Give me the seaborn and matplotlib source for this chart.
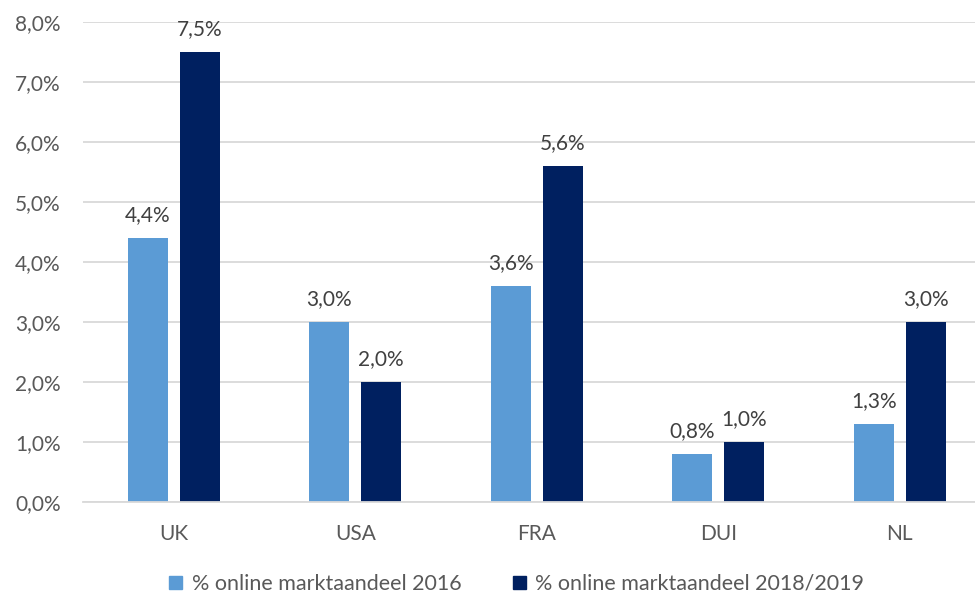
import matplotlib
matplotlib.use("Agg")
import matplotlib.pyplot as plt
import seaborn as sns
import pandas as pd

# Online market share per country
countries = ["UK", "USA", "FRA", "DUI", "NL"]
share_2016 = [4.4, 3.0, 3.6, 0.8, 1.3]
share_2018_2019 = [7.5, 2.0, 5.6, 1.0, 3.0]
series_names = ["% online marktaandeel 2016", "% online marktaandeel 2018/2019"]
y_ticks = [0, 1, 2, 3, 4, 5, 6, 7, 8]

df = pd.DataFrame({
    "land": countries * 2,
    "aandeel": share_2016 + share_2018_2019,
    "reeks": [series_names[0]] * len(countries) + [series_names[1]] * len(countries),
})

sns.set_theme(style="white")
plt.rcParams["font.family"] = ["Lato", "DejaVu Sans"]

text_col = "#595959"
grid_col = "#D9D9D9"
colors = ["#5B9BD5", "#002060"]

fig = plt.figure(figsize=(9.75, 5.95), dpi=100)
W, H = 975, 595
left, right, top, bottom = 83, 990.5, 22, 502
ax = fig.add_axes([left / W, (H - bottom) / H, (right - left) / W, (bottom - top) / H])

sns.barplot(data=df, x="land", y="aandeel", hue="reeks", palette=colors,
            width=0.573, gap=0.231, ax=ax, legend=False, saturation=1,
            linewidth=0, edgecolor="none")

ax.set_xlim(-0.5, 4.5)
ax.set_ylim(0, 8)
ax.set_yticks(y_ticks)
ax.set_yticklabels([f"{t:.1f}%".replace(".", ",") for t in y_ticks])
ax.set_xlabel("")
ax.set_ylabel("")

ax.grid(axis="y", color=grid_col, linewidth=1.3)
ax.set_axisbelow(True)
for s in ["left", "right", "top"]:
    ax.spines[s].set_visible(False)
ax.spines["bottom"].set_color(grid_col)
ax.spines["bottom"].set_linewidth(1.3)

ax.tick_params(axis="y", length=0, pad=16, labelsize=15, labelcolor=text_col)
ax.tick_params(axis="x", length=0, pad=16, labelsize=15, labelcolor=text_col)

for cont, vals in zip(ax.containers, [share_2016, share_2018_2019]):
    ax.bar_label(cont, labels=[f"{v:.1f}%".replace(".", ",") for v in vals],
                 padding=9, fontsize=15, color="#404040")

handles = [plt.Rectangle((0, 0), 1, 1, color=c) for c in colors]
fig.legend(handles, series_names, loc="center", bbox_to_anchor=(0.530, 11 / H),
           ncol=2, frameon=False, fontsize=15.5, labelcolor=text_col,
           handlelength=0.6, handleheight=0.6, handletextpad=0.45, columnspacing=2.4,
           borderpad=0)

fig.savefig("out.png", dpi=100)
